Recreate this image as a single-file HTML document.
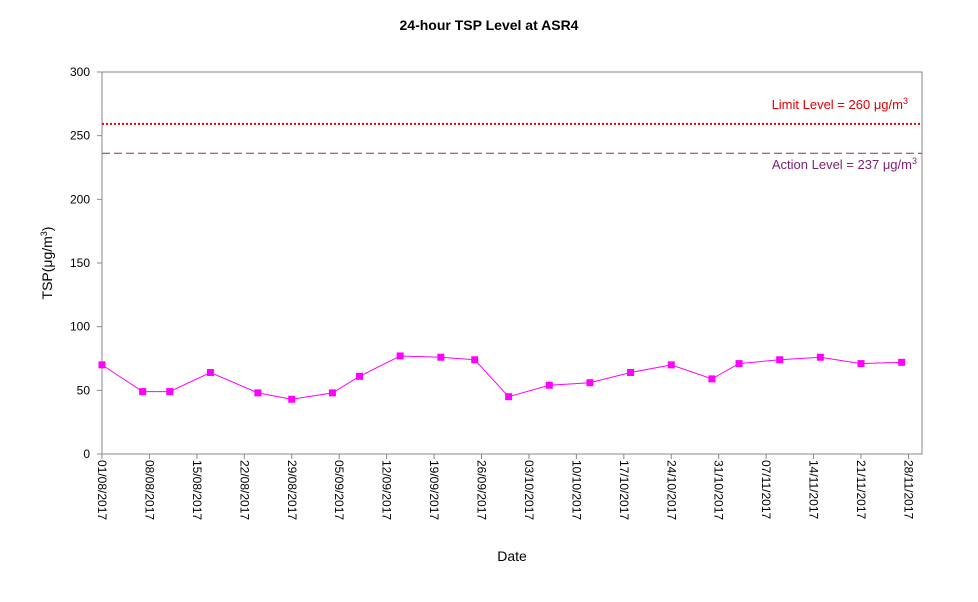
<!DOCTYPE html>
<html><head><meta charset="utf-8"><style>
html,body{margin:0;padding:0;background:#fff;}
svg{display:block;font-family:"Liberation Sans",Arial,sans-serif;}
</style></head><body>
<svg id="chart" width="978" height="602" viewBox="0 0 978 602">
<rect x="0" y="0" width="978" height="602" fill="#fff"/>
<text x="489" y="30" text-anchor="middle" font-size="14" font-weight="bold">24-hour TSP Level at ASR4</text>
<rect x="102" y="72" width="820" height="382" fill="none" stroke="#888" stroke-width="1"/>
<g id="yaxis"></g>
<g id="xaxis"></g>
<g id="lines"></g>
<g id="series"></g>
<text transform="translate(52,263) rotate(-90)" text-anchor="middle" font-size="14">TSP(μg/m<tspan baseline-shift="super" font-size="9">3</tspan>)</text>
<text x="512" y="561" text-anchor="middle" font-size="14">Date</text>
</svg>
<script>
const dayOffsets=[0,6,10,16,23,28,34,38,44,50,55,60,66,72,78,84,90,94,100,106,112,118];
const tspValues=[70,49,49,64,48,43,48,61,77,76,74,45,54,56,64,70,59,71,74,76,71,72];
const yTicks=[0,50,100,150,200,250,300];
const xTickLabels=["01/08/2017","08/08/2017","15/08/2017","22/08/2017","29/08/2017","05/09/2017","12/09/2017","19/09/2017","26/09/2017","03/10/2017","10/10/2017","17/10/2017","24/10/2017","31/10/2017","07/11/2017","14/11/2017","21/11/2017","28/11/2017"];
const limitLevel=260, actionLevel=237;
const NS="http://www.w3.org/2000/svg";
const X0=102,X1=922,Y0=454,Y1=72,DAYS=121,YMAX=300;
const xs=d=>X0+(X1-X0)*d/DAYS;
const ys=v=>Y0-(Y0-Y1)*v/YMAX;
function mk(tag,attrs,parent,text){const e=document.createElementNS(NS,tag);for(const k in attrs)e.setAttribute(k,attrs[k]);if(text!==undefined)e.textContent=text;parent.appendChild(e);return e;}
const ya=document.getElementById('yaxis');
yTicks.forEach(t=>{
 const l=mk('line',{x1:97,x2:102,y1:ys(t),y2:ys(t),stroke:'#888'},ya);
 
 
 const tx=mk('text',{x:90,y:ys(t)+4,'text-anchor':'end','font-size':12},ya,String(t));
 
 
});
const xa=document.getElementById('xaxis');
xTickLabels.forEach((lab,i)=>{
 const x=xs(i*7);
 const l=mk('line',{x1:x,x2:x,y1:454,y2:459,stroke:'#888'},xa);
 
 
 const tx=mk('text',{transform:`translate(${x-4},460) rotate(90)`,'font-size':12},xa,lab);
 
 
});
const ln=document.getElementById('lines');
const ll=mk('line',{x1:102,x2:922,y1:ys(limitLevel)+1,y2:ys(limitLevel)+1,stroke:'#e00000','stroke-width':2,'stroke-dasharray':'2,2'},ln);


const lt=mk('text',{x:908,y:ys(limitLevel)-14,'text-anchor':'end','font-size':13,fill:'#e00000'},ln);
lt.innerHTML='Limit Level = '+limitLevel+' μg/m<tspan baseline-shift="super" font-size="9">3</tspan>';


const al=mk('line',{x1:102,x2:922,y1:ys(actionLevel)+1,y2:ys(actionLevel)+1,stroke:'#8b2a7e','stroke-width':1,'stroke-dasharray':'8,4'},ln);


const at=mk('text',{x:917,y:ys(actionLevel)+17,'text-anchor':'end','font-size':13,fill:'#7a1f70'},ln);
at.innerHTML='Action Level = '+actionLevel+' μg/m<tspan baseline-shift="super" font-size="9">3</tspan>';


const sg=document.getElementById('series');
const pts=dayOffsets.map((d,i)=>xs(d)+','+ys(tspValues[i])).join(' ');
const pl=mk('polyline',{points:pts,fill:'none',stroke:'#ff00ff','stroke-width':1},sg);


dayOffsets.forEach((d,i)=>{
 const r=mk('rect',{x:xs(d)-3.5,y:ys(tspValues[i])-3.5,width:7,height:7,fill:'#ff00ff'},sg);
 
 
});
</script>
</body></html>
